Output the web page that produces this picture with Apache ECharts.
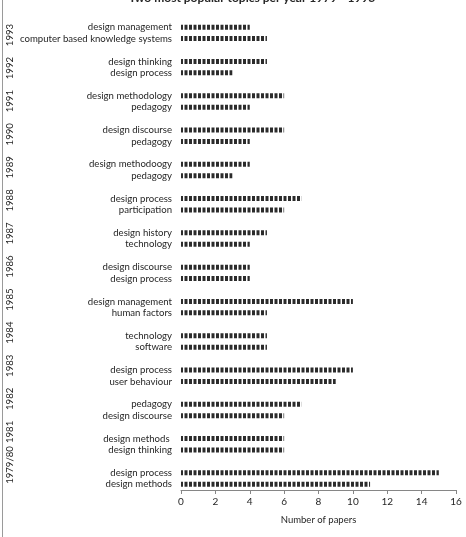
<!DOCTYPE html>
<html>
<head>
<meta charset="utf-8">
<script src="https://cdn.jsdelivr.net/npm/echarts@6/dist/echarts.min.js"></script>
<style>
  html, body { margin: 0; padding: 0; background: #fff; }
  #chart { width: 466px; height: 537px; }
</style>
</head>
<body>
<div id="chart"></div>
<script>
// years, top to bottom as in the picture
const years = ['1993', '1992', '1991', '1990', '1989', '1988', '1987', '1986', '1985', '1984', '1983', '1982', '1981', '1979/80']
// upper topic of each pair
const upperTopics = ['design management', 'design thinking', 'design methodology', 'design discourse', 'design methodoogy',
  'design process', 'design history', 'design discourse', 'design management', 'technology', 'design process',
  'pedagogy', 'design methods ', 'design process']
const upperCounts = [4, 5, 6, 6, 4, 7, 5, 4, 10, 5, 10, 7, 6, 15]
// lower topic of each pair
const lowerTopics = ['computer based knowledge systems', 'design process', 'pedagogy', 'pedagogy', 'pedagogy',
  'participation', 'technology', 'design process', 'human factors', 'software', 'user behaviour',
  'design discourse', 'design thinking', 'design methods']
const lowerCounts = [5, 3, 4, 4, 3, 6, 4, 4, 5, 5, 9, 6, 6, 11]

const FONT = 'Lato'
const TXT = '#262626'

// category axis runs bottom -> top: lower, upper, gap for each year
const cats = []
const vals = []
for (let i = years.length - 1; i >= 0; i--) {
  cats.push(lowerTopics[i]); vals.push(lowerCounts[i])
  cats.push(upperTopics[i]); vals.push(upperCounts[i])
  cats.push(''); vals.push('-')
}
const yearCats = years.slice().reverse()

// striped fill like the original
const pat = document.createElement('canvas')
pat.width = 9
pat.height = 6
const ctx = pat.getContext('2d')
ctx.fillStyle = '#ffffff'
ctx.fillRect(0, 0, 9, 6)
ctx.fillStyle = '#2b2b2b'
ctx.fillRect(0, 0, 3, 6)
ctx.fillRect(4.5, 0, 3, 6)

const chart = echarts.init(document.getElementById('chart'), null, { renderer: 'canvas' })
chart.setOption({
  animation: false,
  title: {
    text: 'Two most popular topics per year 1979 - 1993',
    left: 247,
    textAlign: 'center',
    top: -13,
    textStyle: { fontFamily: FONT, fontSize: 12, fontWeight: 'bold', color: TXT }
  },
  graphic: [
    { type: 'rect', shape: { x: 2, y: 0, width: 1, height: 537 }, style: { fill: '#9a9a9a' } }
  ],
  grid: [
    { left: 181, right: 10, top: 10, bottom: 47, outerBoundsMode: 'none', containLabel: false },
    // outer level (years) spread a little tighter, like the original
    { left: 181, right: 10, top: 18.5, bottom: 55.5, outerBoundsMode: 'none', containLabel: false }
  ],
  xAxis: [
    {
      type: 'value',
      gridIndex: 0,
      min: 0,
      max: 16,
      interval: 2,
      name: 'Number of papers',
      nameLocation: 'middle',
      nameGap: 25,
      nameTextStyle: { fontFamily: FONT, fontSize: 9.5, color: TXT },
      axisLine: { show: true, lineStyle: { color: '#868686' } },
      axisTick: { show: true, length: 4, lineStyle: { color: '#868686' } },
      axisLabel: { fontFamily: FONT, fontSize: 10, color: TXT, margin: 7 },
      splitLine: { show: false }
    },
    { type: 'value', gridIndex: 1, show: false, min: 0, max: 16 }
  ],
  yAxis: [
    {
      type: 'category',
      gridIndex: 0,
      data: cats,
      axisLine: { show: false },
      axisTick: { show: false },
      axisLabel: { fontFamily: FONT, fontSize: 9.6, color: TXT, margin: 9, interval: 0 }
    },
    {
      type: 'category',
      gridIndex: 1,
      data: yearCats,
      position: 'left',
      offset: 158,
      axisLine: { show: false },
      axisTick: { show: false },
      axisLabel: { fontFamily: FONT, fontSize: 9.6, color: TXT, rotate: 90, interval: 0, align: 'center', verticalAlign: 'bottom' }
    }
  ],
  series: [
    {
      type: 'bar',
      xAxisIndex: 0,
      yAxisIndex: 0,
      data: vals,
      barWidth: 5,
      itemStyle: { color: { image: pat, repeat: 'repeat' } }
    }
  ]
})
</script>
</body>
</html>
